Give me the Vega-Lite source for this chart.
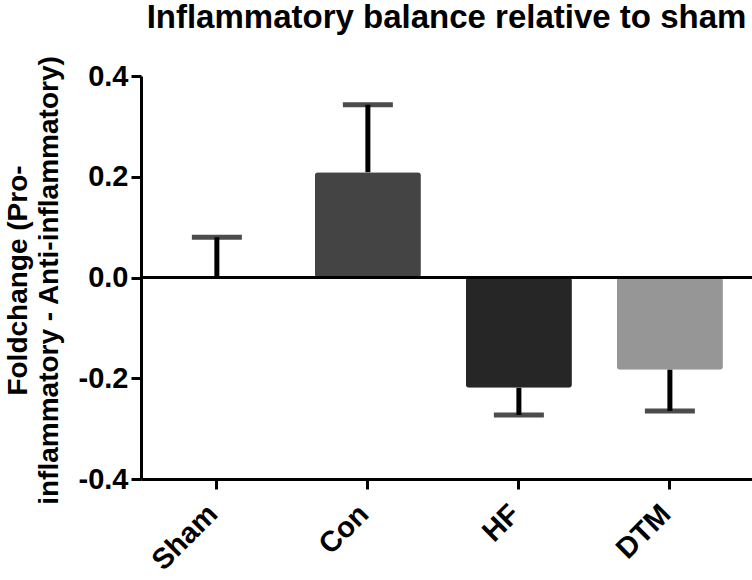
{
  "$schema": "https://vega.github.io/schema/vega-lite/v6.json",
  "autosize": "none",
  "width": 611,
  "height": 403,
  "padding": {"left": 141, "top": 76, "right": 0, "bottom": 101},
  "background": "white",
  "config": {
    "font": "Liberation Sans",
    "view": {"stroke": null},
    "axis": {"grid": false}
  },
  "title": {
    "text": "Inflammatory balance relative to sham",
    "fontSize": 33,
    "fontWeight": "bold",
    "font": "Liberation Sans",
    "color": "black",
    "anchor": "middle",
    "frame": "group",
    "baseline": "alphabetic",
    "offset": -6
  },
  "data": {
    "values": [
      {"group": "Sham", "mean": 0.0, "err": 0.08},
      {"group": "Con", "mean": 0.209, "err": 0.343},
      {"group": "HF", "mean": -0.219, "err": -0.273},
      {"group": "DTM", "mean": -0.183, "err": -0.265}
    ]
  },
  "encoding": {
    "x": {
      "field": "group",
      "type": "nominal",
      "sort": ["Sham", "Con", "HF", "DTM"],
      "scale": {"paddingInner": 0.298, "paddingOuter": 0.172, "align": 0.44},
      "axis": {
        "title": null,
        "labelAngle": -45,
        "labelAlign": "right",
        "labelBaseline": "middle",
        "labelFontSize": 29,
        "labelFontWeight": "bold",
        "labelColor": "black",
        "labelPadding": 20,
        "labelOffset": -4,
        "tickSize": 10,
        "tickWidth": 3,
        "tickColor": "black",
        "domainWidth": 3,
        "domainColor": "black"
      }
    }
  },
  "layer": [
    {
      "mark": {"type": "bar", "cornerRadius": 3},
      "encoding": {
        "y": {
          "field": "mean",
          "type": "quantitative",
          "scale": {"domain": [-0.4, 0.4], "nice": false, "zero": true},
          "axis": {
            "title": ["Foldchange (Pro-", "inflammatory - Anti-inflammatory)"],
            "titleFontSize": 28,
            "titleFontWeight": "bold",
            "titleColor": "black",
            "titleAngle": -90,
            "titleAlign": "center",
            "titleBaseline": "top",
            "titleX": -137,
            "titleY": 204,
            "titleLineHeight": 31,
            "values": [-0.4, -0.2, 0, 0.2, 0.4],
            "format": ".1f",
            "labelExpr": "replace(datum.label, '\u2212', '-')",
            "labelFontSize": 29,
            "labelFontWeight": "bold",
            "labelColor": "black",
            "labelPadding": 3,
            "tickSize": 10,
            "tickWidth": 3,
            "tickColor": "black",
            "domainWidth": 3,
            "domainColor": "black"
          }
        },
        "color": {
          "field": "group",
          "type": "nominal",
          "scale": {"domain": ["Sham", "Con", "HF", "DTM"], "range": ["#ffffff", "#444444", "#262626", "#969696"]},
          "legend": null
        }
      }
    },
    {
      "mark": {"type": "rule", "color": "black", "strokeWidth": 5},
      "encoding": {
        "y": {"field": "mean", "type": "quantitative"},
        "y2": {"field": "err"}
      }
    },
    {
      "mark": {"type": "tick", "color": "black", "size": 50, "thickness": 5, "orient": "horizontal"},
      "encoding": {
        "y": {"field": "err", "type": "quantitative"}
      }
    },
    {
      "mark": {"type": "rule", "color": "black", "strokeWidth": 3},
      "encoding": {
        "x": {"value": 0},
        "x2": {"value": 611},
        "y": {"datum": 0, "type": "quantitative"}
      }
    }
  ]
}
